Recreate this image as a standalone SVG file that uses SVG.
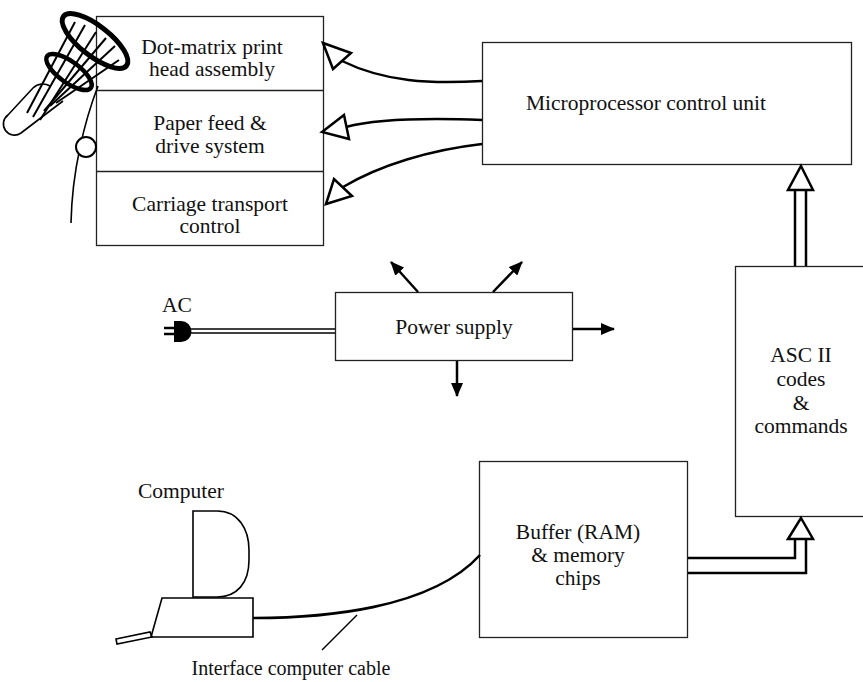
<svg xmlns="http://www.w3.org/2000/svg" width="863" height="682" viewBox="0 0 863 682">
  <style>
    .box { fill: #fff; stroke: #222; stroke-width: 1.3; }
    .lbl { font-family: "Liberation Serif", "Times New Roman", serif; font-size: 21.5px; fill: #111; text-anchor: middle; }
    .wire { fill: none; stroke: #000; stroke-width: 2.5; }
    .thin { fill: none; stroke: #000; stroke-width: 1.4; }
    .hollow { fill: #fff; stroke: #000; stroke-width: 2.5; stroke-linejoin: miter; }
    .draw { fill: none; stroke: #000; stroke-width: 1.6; }
  </style>
  <defs>
    <marker id="solid" viewBox="0 0 14 12" refX="13" refY="6" markerWidth="14" markerHeight="12" markerUnits="userSpaceOnUse" orient="auto">
      <path d="M0,0 L14,6 L0,12 Z" fill="#000"/>
    </marker>
  </defs>
  <rect width="863" height="682" fill="#fff"/>

  <!-- printer mechanism blocks -->
  <g id="mechanism">
    <rect class="box" x="96.5" y="16.5" width="227" height="229"/>
    <line class="box" x1="96.5" y1="90.5" x2="323.5" y2="90.5"/>
    <line class="box" x1="96.5" y1="171.5" x2="323.5" y2="171.5"/>
  </g>

  <!-- print head sketch, paper and roller -->
  <g id="print-head">
    <path class="draw" stroke-width="1.8" d="M63,101 L21,133 A11,11 0 0 1 8,115 L33,88 C38,83 45,83 50,86"/>
    <g stroke="#000" stroke-width="2" fill="none">
      <line x1="75" y1="22" x2="27" y2="113"/>
      <line x1="85" y1="25" x2="33" y2="117"/>
      <line x1="96" y1="32" x2="40" y2="120"/>
      <line x1="106" y1="38" x2="44" y2="111"/>
      <line x1="115" y1="46" x2="50" y2="106"/>
      <line x1="119" y1="60" x2="56" y2="103"/>
    </g>
    <ellipse cx="95" cy="41" rx="40" ry="15" transform="rotate(38 95 41)" fill="none" stroke="#000" stroke-width="5"/>
    <ellipse cx="69" cy="72" rx="27" ry="10.5" transform="rotate(36 69 72)" fill="none" stroke="#000" stroke-width="4.5"/>
    <path class="draw" stroke-width="2" d="M98,86 C85,120 72,170 71,223"/>
    <circle cx="86" cy="147" r="10" fill="#fff" stroke="#000" stroke-width="2"/>
  </g>

  <g id="print-head-assembly">
    <text class="lbl" x="212" y="54">Dot-matrix print</text>
    <text class="lbl" x="212" y="76">head assembly</text>
  </g>
  <g id="paper-feed">
    <text class="lbl" x="210" y="130">Paper feed &amp;</text>
    <text class="lbl" x="210" y="153">drive system</text>
  </g>
  <g id="carriage-transport">
    <text class="lbl" x="210" y="211">Carriage transport</text>
    <text class="lbl" x="210" y="233">control</text>
  </g>

  <g id="microprocessor">
    <rect class="box" x="482.5" y="42.5" width="369" height="122"/>
    <text class="lbl" x="646" y="110">Microprocessor control unit</text>
  </g>

  <g id="power-supply">
    <rect class="box" x="335.5" y="292.5" width="237" height="68"/>
    <text class="lbl" x="454" y="334">Power supply</text>
  </g>

  <g id="ac-plug">
    <text class="lbl" x="177" y="312">AC</text>
    <line x1="164" y1="328" x2="175" y2="328" stroke="#000" stroke-width="2.5"/>
    <line x1="164" y1="334" x2="175" y2="334" stroke="#000" stroke-width="2.5"/>
    <path d="M174,321 L181,321 A10.5,10.5 0 0 1 181,342 L174,342 Z" fill="#000"/>
  </g>

  <g id="ascii">
    <rect class="box" x="735.5" y="266.5" width="140" height="250"/>
    <text class="lbl" x="801" y="362">ASC II</text>
    <text class="lbl" x="801" y="386">codes</text>
    <text class="lbl" x="801" y="410">&amp;</text>
    <text class="lbl" x="801" y="433">commands</text>
  </g>

  <g id="buffer">
    <rect class="box" x="479.5" y="461.5" width="208" height="176"/>
    <text class="lbl" x="578" y="539">Buffer (RAM)</text>
    <text class="lbl" x="578" y="562">&amp; memory</text>
    <text class="lbl" x="578" y="585">chips</text>
  </g>

  <g id="computer">
    <text class="lbl" x="181" y="498">Computer</text>
    <path class="draw" d="M193,511 L217,511 C239,511 249,530 249,550 L249,560 C249,583 237,597 217,597 L193,597 Z"/>
    <path class="draw" d="M162,598 L253,598 L253,637 L151,637 Z"/>
    <path class="draw" stroke-width="1.2" d="M116,639 L150,632 L152,637 L117,644 Z"/>
  </g>

  <g id="cable-label">
    <text class="lbl" x="291" y="675" style="font-size:20px">Interface computer cable</text>
  </g>

  <!-- connectors -->
  <g id="connectors">
    <!-- control unit to mechanism -->
    <path class="wire" d="M482,81 C430,84 385,82 342,61"/>
    <polygon class="hollow" points="323,43 351,53 333,69"/>
    <path class="wire" d="M482,120 C430,118 380,118 346,127"/>
    <polygon class="hollow" points="322,132 344,115 349,139"/>
    <path class="wire" d="M482,144 C430,150 380,165 343,187"/>
    <polygon class="hollow" points="326,204 334,179 352,196"/>

    <!-- codes to control unit -->
    <line class="wire" x1="795" y1="190" x2="795" y2="266"/>
    <line class="wire" x1="806" y1="190" x2="806" y2="266"/>
    <polygon class="hollow" points="801,166 813,190 788,190"/>

    <!-- buffer to codes -->
    <polyline class="wire" points="688,558 795,558 795,539"/>
    <polyline class="wire" points="688,573 806,573 806,539"/>
    <polygon class="hollow" points="801,518 813,539 788,539"/>

    <!-- AC feed -->
    <line x1="190" y1="329" x2="335" y2="329" stroke="#000" stroke-width="1.4"/>
    <line x1="190" y1="333" x2="335" y2="333" stroke="#000" stroke-width="1.4"/>

    <!-- power outputs -->
    <line class="wire" x1="418" y1="292" x2="391" y2="262" marker-end="url(#solid)"/>
    <line class="wire" x1="493" y1="292" x2="522" y2="262" marker-end="url(#solid)"/>
    <line class="wire" x1="573" y1="329" x2="614" y2="329" marker-end="url(#solid)"/>
    <line class="wire" x1="457" y1="361" x2="457" y2="396" marker-end="url(#solid)"/>

    <!-- interface cable -->
    <path d="M253,618 C320,618 430,610 480,555" fill="none" stroke="#000" stroke-width="2.6"/>
    <line class="thin" x1="357" y1="615" x2="322" y2="650"/>
  </g>
</svg>
